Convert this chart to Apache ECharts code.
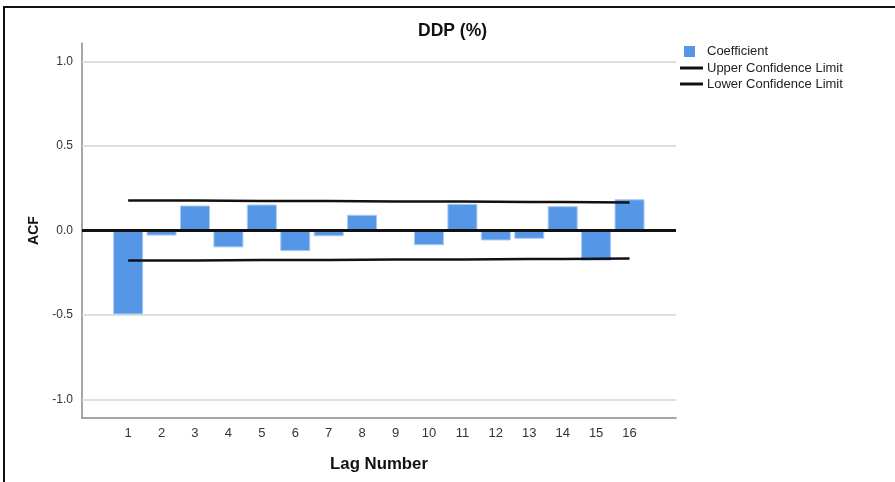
<!DOCTYPE html>
<html>
<head>
<meta charset="utf-8">
<script src="https://cdn.jsdelivr.net/npm/echarts@6/dist/echarts.min.js"></script>
<style>html,body{margin:0;padding:0;background:#fff}#c{width:895px;height:482px}</style>
</head>
<body>
<div id="c"></div>
<script>
var lags = [1,2,3,4,5,6,7,8,9,10,11,12,13,14,15,16];
var coefficient = [-0.497,-0.030,0.148,-0.100,0.154,-0.122,-0.034,0.093,-0.005,-0.087,0.158,-0.059,-0.049,0.144,-0.178,0.185];
var upperLimit = [0.178,0.178,0.177,0.176,0.175,0.175,0.174,0.173,0.172,0.172,0.171,0.170,0.169,0.168,0.167,0.166];
var lowerLimit = [-0.178,-0.178,-0.177,-0.176,-0.175,-0.175,-0.174,-0.173,-0.172,-0.172,-0.171,-0.170,-0.169,-0.168,-0.167,-0.166];
var yTicks = [-1.0,-0.5,0.0,0.5,1.0];

function pairs(vals){ return lags.map(function(l,i){ return [l, vals[i]]; }); }

var font = "'Liberation Sans', Arial, sans-serif";
var chart = echarts.init(document.getElementById('c'), null, {renderer:'canvas'});
chart.setOption({
  animation: false,
  backgroundColor: '#fff',
  title: {
    text: 'DDP (%)', left: 413, top: 17,
    textStyle: {fontFamily: font, fontSize: 17.5, fontWeight: 'bold', color: '#111'}
  },
  legend: [{
    orient: 'vertical', left: 684, top: 45, padding: 0, itemWidth: 11, itemHeight: 11,
    data: [{name: 'Coefficient', icon: 'rect', itemStyle: {borderWidth: 0, color: '#5596e6'}}],
    textStyle: {fontFamily: font, fontSize: 13, color: '#222', padding: [1,0,0,7]}
  },{
    orient: 'vertical', left: 680, top: 60, padding: 0, itemWidth: 23, itemHeight: 3, itemGap: 0,
    data: [{name: 'Upper Confidence Limit', icon: 'rect'}, {name: 'Lower Confidence Limit', icon: 'rect'}],
    textStyle: {fontFamily: font, fontSize: 13, lineHeight: 16, color: '#222', padding: [0,0,0,-1]}
  }],
  graphic: [
    {type: 'line', shape: {x1: 3, y1: 7, x2: 895, y2: 7}, style: {stroke: '#111', lineWidth: 2}},
    {type: 'line', shape: {x1: 4, y1: 6, x2: 4, y2: 482}, style: {stroke: '#111', lineWidth: 2}}
  ],
  grid: {left: 82, top: 43, width: 594, height: 375},
  xAxis: {
    type: 'value', min: -0.38, max: 17.39,
    name: 'Lag Number', nameLocation: 'middle', nameGap: 38,
    nameTextStyle: {fontFamily: font, fontSize: 16.8, fontWeight: 'bold', color: '#111'},
    axisLine: {show: true, onZero: false, lineStyle: {color: '#888', width: 1.5}},
    axisTick: {show: false},
    splitLine: {show: false},
    axisLabel: {customValues: lags, margin: 9, fontFamily: font, fontSize: 13, color: '#333'}
  },
  yAxis: {
    type: 'value', min: -1.11, max: 1.11,
    name: 'ACF', nameLocation: 'middle', nameGap: 40,
    nameTextStyle: {fontFamily: font, fontSize: 14, fontWeight: 'bold', color: '#111'},
    axisLine: {show: true, onZero: false, lineStyle: {color: '#888', width: 1.5}},
    axisTick: {show: false, customValues: yTicks},
    splitLine: {show: false},
    axisLabel: {customValues: yTicks, margin: 9, fontFamily: font, fontSize: 12, color: '#333',
      formatter: function(v){ return v.toFixed(1); }}
  },
  series: [
    {
      name: 'Coefficient', type: 'bar', barWidth: 30, z: 2,
      data: pairs(coefficient),
      itemStyle: {color: '#5596e6', borderColor: '#a9c9f2', borderWidth: 1},
      markLine: {
        silent: true, symbol: 'none', label: {show: false}, z: 1,
        lineStyle: {color: '#d6d6d6', width: 1.5, type: 'solid'},
        data: [{yAxis: -1.0}, {yAxis: -0.5}, {yAxis: 0.5}, {yAxis: 1.0}]
      }
    },
    {
      name: 'Upper Confidence Limit', type: 'line', showSymbol: false, symbol: 'none', z: 4,
      data: pairs(upperLimit), itemStyle: {color: '#111'}, lineStyle: {color: '#111', width: 2.5}
    },
    {
      name: 'Lower Confidence Limit', type: 'line', showSymbol: false, symbol: 'none', z: 4,
      data: pairs(lowerLimit), itemStyle: {color: '#111'}, lineStyle: {color: '#111', width: 2.5},
      markLine: {
        silent: true, symbol: 'none', label: {show: false},
        lineStyle: {color: '#111', width: 3, type: 'solid'},
        data: [{yAxis: 0}]
      }
    }
  ]
});
</script>
</body>
</html>
